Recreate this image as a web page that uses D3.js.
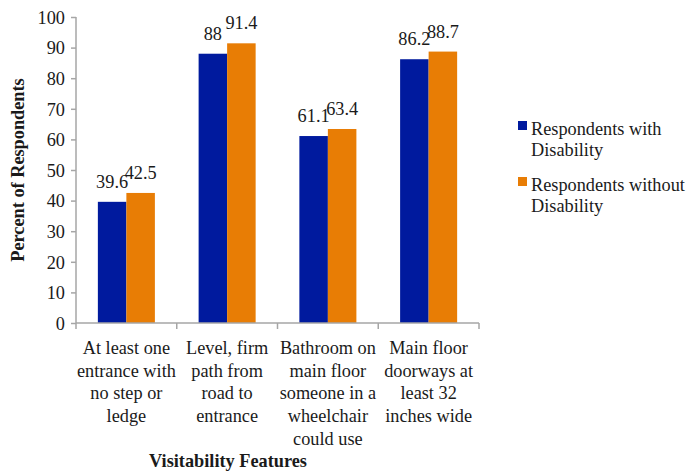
<!DOCTYPE html>
<html><head><meta charset="utf-8">
<script src="https://cdn.jsdelivr.net/npm/d3@7"></script>
<style>body{margin:0;background:#fff}svg{display:block}svg text{fill:#1a1a1a}</style>
</head><body>
<script>
const categories = [
  ["At least one","entrance with","no step or","ledge"],
  ["Level, firm","path from","road to","entrance"],
  ["Bathroom on","main floor","someone in a","wheelchair","could use"],
  ["Main floor","doorways at","least 32","inches wide"]
];
const seriesNames = [["Respondents with","Disability"],["Respondents without","Disability"]];
const withDisability = [39.6, 88, 61.1, 86.2];
const withoutDisability = [42.5, 91.4, 63.4, 88.7];
const yTicks = [0,10,20,30,40,50,60,70,80,90,100];
const colors = ["#001A9E","#E87D05"];

const W=689,H=472;
const FONT="'Liberation Serif', 'DejaVu Serif', serif";
const FS="18.3px";
const svg=d3.select("body").append("svg").attr("width",W).attr("height",H)
  .attr("font-family",FONT);

const x0=76,x1=479,yTop=17,yBot=323;
const x=d3.scaleBand().domain(d3.range(categories.length)).range([x0,x1]);
const y=d3.scaleLinear().domain([0,100]).range([yBot,yTop]);
const bw=x.bandwidth()*0.283;
const series=[withDisability,withoutDisability];

const gray="#A6A6A6";
const yAxis=svg.append("g").attr("transform",`translate(${x0},0)`)
  .call(d3.axisLeft(y).tickValues(yTicks).tickSize(5).tickPadding(6));
yAxis.attr("font-family",null).attr("font-size",null);
yAxis.select(".domain").attr("stroke",gray).attr("stroke-width",1.5).attr("d",`M0,${yTop}V${yBot}`);
yAxis.selectAll(".tick line").attr("stroke",gray).attr("stroke-width",1.5);
yAxis.selectAll(".tick text").style("font-size",FS).style("font-family",FONT).attr("fill","#1a1a1a").attr("dy","0.34em");

series.forEach((vals,s)=>{
  svg.append("g").selectAll("rect").data(vals).join("rect")
    .attr("x",(d,i)=>x(i)+x.bandwidth()/2+(s===0?-bw:0))
    .attr("y",d=>y(d)).attr("width",bw).attr("height",d=>y(0)-y(d))
    .attr("fill",colors[s]);
  svg.append("g").selectAll("text").data(vals).join("text")
    .attr("x",(d,i)=>x(i)+x.bandwidth()/2+(s===0?-bw/2:bw/2))
    .attr("y",d=>y(d)-14).attr("text-anchor","middle").style("font-size",FS).style("font-family",FONT)
    .text(d=>d);
});

const xg=svg.append("g");
xg.append("line").attr("x1",x0).attr("x2",x1).attr("y1",yBot).attr("y2",yBot).attr("stroke",gray).attr("stroke-width",1.5);
d3.range(categories.length+1).forEach(i=>{
  const xx=i<categories.length?x(i):x1;
  xg.append("line").attr("x1",xx).attr("x2",xx).attr("y1",yBot).attr("y2",yBot+6).attr("stroke",gray).attr("stroke-width",1.5);
});
categories.forEach((lines,i)=>{
  const t=svg.append("text").attr("text-anchor","middle").style("font-size",FS).style("font-family",FONT);
  lines.forEach((l,k)=>t.append("tspan").attr("x",x(i)+x.bandwidth()/2).attr("y",354+k*22.7).text(l));
});

svg.append("text").attr("x",228).attr("y",467).attr("text-anchor","middle").style("font-size",FS).style("font-family",FONT).style("font-weight","bold").text("Visitability Features");
svg.append("text").attr("transform","translate(24,170) rotate(-90)").attr("text-anchor","middle").style("font-size",FS).style("font-family",FONT).style("font-weight","bold").text("Percent of Respondents");

const lg=svg.append("g");
seriesNames.forEach((lines,s)=>{
  const top=121+s*56;
  lg.append("rect").attr("x",518).attr("y",top).attr("width",9).attr("height",9).attr("fill",colors[s]);
  const t=lg.append("text").style("font-size",FS).style("font-family",FONT);
  lines.forEach((l,k)=>t.append("tspan").attr("x",531).attr("y",top+14+k*21).text(l));
});
</script>
</body></html>
